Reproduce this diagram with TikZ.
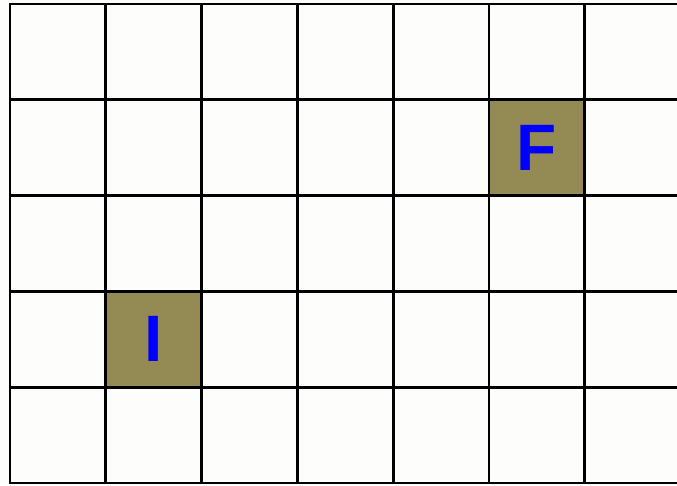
\documentclass[tikz,border=0pt]{standalone}
\usepackage{fontspec}
\setmainfont{Liberation Sans}
\usepackage{xcolor}
\usepackage{tikz}
\definecolor{cellolive}{RGB}{148,138,84}
\definecolor{pagewhite}{RGB}{253,253,251}

\begin{document}
\begin{tikzpicture}[x=1cm,y=1cm,
  cellbox/.style={fill=cellolive,minimum size=1cm,inner sep=0pt,
    text=blue,font=\fontsize{19.5}{19.5}\selectfont\bfseries},
  gridline/.style={line width=0.8pt,line cap=rect}]
% page
\fill[pagewhite] (-0.104,-0.021) rectangle (6.962,5.042);
\useasboundingbox (-0.104,-0.021) rectangle (6.962,5.042);
% start and finish cells
\node[cellbox] (I) at (1.5,1.5) {I};
\node[cellbox] (F) at (5.5,3.5) {F};
% grid
\foreach \yi in {0,...,5}{
  \draw[gridline] (0,\yi) -- (6.97,\yi);
}
\foreach \xi in {0,...,6}{
  \draw[gridline] (\xi,0) -- (\xi,5);
}
\end{tikzpicture}
\end{document}
